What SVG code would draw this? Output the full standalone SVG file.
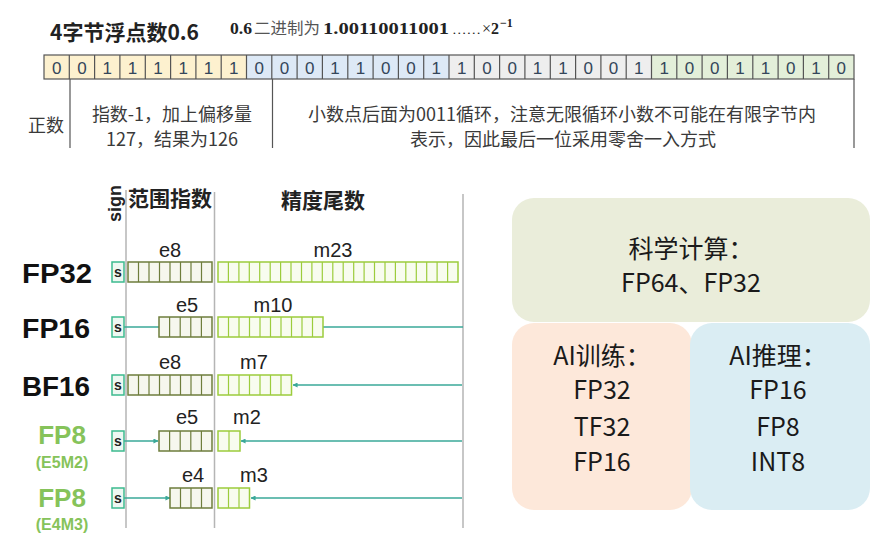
<svg xmlns="http://www.w3.org/2000/svg" width="889" height="548" viewBox="0 0 889 548">
<defs>
<style>
.cjk{font-family:"Noto Sans CJK SC","Noto Sans",sans-serif}
.bit{font-family:"Liberation Sans","Noto Sans",sans-serif;font-size:17px;fill:#34465a;text-anchor:middle}
.y{fill:#fdf1cf}.b{fill:#dde9f6}.g{fill:#eeeeee}.gr{fill:#e3efd9}
.cellline{stroke:#555;stroke-width:1.2;fill:none}
.note{font-family:"Noto Sans CJK SC","Noto Sans",sans-serif;font-size:18px;fill:#3a3a3a;text-anchor:middle}
.lbl{font-family:"Liberation Sans","Noto Sans",sans-serif;font-size:20px;fill:#222;text-anchor:middle}
.fmt{font-family:"Liberation Sans","Noto Sans",sans-serif;font-weight:bold;fill:#111}
.fp8{font-family:"Liberation Sans","Noto Sans",sans-serif;font-weight:bold;fill:#86c35a}
.sbox{fill:#eef8f2;stroke:#3dba8f;stroke-width:1.5}
.stxt{font-family:"Liberation Sans",sans-serif;font-weight:bold;font-size:14px;fill:#222;text-anchor:middle}
.ebox{fill:#f6f7ee;stroke:#6e7d3c;stroke-width:1.5}
.mbox{fill:#f8fcef;stroke:#9ccc3c;stroke-width:1.5}
.ediv{stroke:#6e7d3c;stroke-width:1.2;fill:none}
.mdiv{stroke:#9ccc3c;stroke-width:1.2;fill:none}
.conn{stroke:#3aa898;stroke-width:1.5;fill:none}
.guide{stroke:#b5b5b5;stroke-width:1.5;fill:none}
.blk{font-family:"Noto Sans CJK SC","Noto Sans",sans-serif;font-size:25px;fill:#1a1a1a;text-anchor:middle}
.ser{font-family:"Liberation Serif","DejaVu Serif",serif;font-weight:bold}
</style>
<marker id="ah" viewBox="0 0 6 6" refX="5.5" refY="3" markerWidth="5" markerHeight="5" orient="auto-start-reverse" markerUnits="userSpaceOnUse">
<path d="M0,0 L6,3 L0,6 z" fill="#3aa898"/>
</marker>
</defs>
<rect width="889" height="548" fill="#ffffff"/>

<g id="title">
<text x="50" y="40" class="cjk" font-size="21" font-weight="bold" fill="#222">4字节浮点数0.6</text>
<text y="34" font-size="16" fill="#222">
<tspan x="230" class="ser" textLength="22" lengthAdjust="spacingAndGlyphs">0.6</tspan><tspan x="254" class="cjk" font-size="16" fill="#555" textLength="66" lengthAdjust="spacingAndGlyphs">二进制为</tspan><tspan x="323" class="ser" textLength="126" lengthAdjust="spacingAndGlyphs">1.00110011001</tspan><tspan x="452" font-family="Liberation Serif, serif" font-size="12" textLength="29" lengthAdjust="spacingAndGlyphs">……</tspan><tspan x="482" font-family="Liberation Serif, serif">×</tspan><tspan x="491" class="ser">2</tspan><tspan x="500" y="27" class="ser" font-size="12">−1</tspan>
</text>
</g>

<g id="bitrow">
<rect class="y" x="44" y="55" width="202.5" height="24"/>
<rect class="b" x="246.5" y="55" width="202.5" height="24"/>
<rect class="g" x="449" y="55" width="202.5" height="24"/>
<rect class="gr" x="651.5" y="55" width="202.5" height="24"/>
<rect class="cellline" x="44" y="55" width="810" height="24" stroke-width="1.5"/>
<path class="cellline" d="M69.3,55V79M94.6,55V79M119.9,55V79M145.3,55V79M170.6,55V79M195.9,55V79M221.2,55V79M246.5,55V79M271.8,55V79M297.1,55V79M322.4,55V79M347.8,55V79M373.1,55V79M398.4,55V79M423.7,55V79M449,55V79M474.3,55V79M499.6,55V79M524.9,55V79M550.3,55V79M575.6,55V79M600.9,55V79M626.2,55V79M651.5,55V79M676.8,55V79M702.1,55V79M727.4,55V79M752.8,55V79M778.1,55V79M803.4,55V79M828.7,55V79"/>
<text class="bit" x="56.7" y="74">0</text>
<text class="bit" x="82.0" y="74">0</text>
<text class="bit" x="107.3" y="74">1</text>
<text class="bit" x="132.6" y="74">1</text>
<text class="bit" x="157.9" y="74">1</text>
<text class="bit" x="183.2" y="74">1</text>
<text class="bit" x="208.5" y="74">1</text>
<text class="bit" x="233.8" y="74">1</text>
<text class="bit" x="259.2" y="74">0</text>
<text class="bit" x="284.5" y="74">0</text>
<text class="bit" x="309.8" y="74">0</text>
<text class="bit" x="335.1" y="74">1</text>
<text class="bit" x="360.4" y="74">1</text>
<text class="bit" x="385.7" y="74">0</text>
<text class="bit" x="411.0" y="74">0</text>
<text class="bit" x="436.3" y="74">1</text>
<text class="bit" x="461.7" y="74">1</text>
<text class="bit" x="487.0" y="74">0</text>
<text class="bit" x="512.3" y="74">0</text>
<text class="bit" x="537.6" y="74">1</text>
<text class="bit" x="562.9" y="74">1</text>
<text class="bit" x="588.2" y="74">0</text>
<text class="bit" x="613.5" y="74">0</text>
<text class="bit" x="638.8" y="74">1</text>
<text class="bit" x="664.2" y="74">1</text>
<text class="bit" x="689.5" y="74">0</text>
<text class="bit" x="714.8" y="74">0</text>
<text class="bit" x="740.1" y="74">1</text>
<text class="bit" x="765.4" y="74">1</text>
<text class="bit" x="790.7" y="74">0</text>
<text class="bit" x="816.0" y="74">1</text>
<text class="bit" x="841.3" y="74">0</text>
<path class="cellline" stroke-width="1.5" d="M70,79V148M272.5,79V148M854,79V148"/>
</g>

<g id="bitnotes">
<text class="note" x="46" y="132" font-size="17">正数</text>
<text class="note" x="172" y="121">指数-1，加上偏移量</text>
<text class="note" x="172" y="146">127，结果为126</text>
<text class="note" x="562" y="121">小数点后面为0011循环，注意无限循环小数不可能在有限字节内</text>
<text class="note" x="563" y="146">表示，因此最后一位采用零舍一入方式</text>
</g>

<g id="formats-header">
<path class="guide" d="M126,190V528M214.5,192V528M463,194V528"/>
<text transform="translate(121,222) rotate(-90)" font-family="Liberation Sans, sans-serif" font-weight="bold" font-size="18" fill="#222">sign</text>
<text x="128" y="206" class="cjk" font-size="21" font-weight="bold" fill="#222">范围指数</text>
<text x="323" y="208" class="cjk" font-size="21" font-weight="bold" fill="#222" text-anchor="middle">精度尾数</text>
</g>

<g id="connectors">
<path class="conn" d="M124,327H159"/>
<path class="conn" d="M323,327H463"/>
<path class="conn" d="M462,385H293" marker-end="url(#ah)"/>
<path class="conn" d="M124,441H158" marker-end="url(#ah)"/>
<path class="conn" d="M462,441H241" marker-end="url(#ah)"/>
<path class="conn" d="M124,498H170" marker-end="url(#ah)"/>
<path class="conn" d="M462,498H251" marker-end="url(#ah)"/>
</g>

<g id="fp32">
<text class="fmt" x="22" y="283" font-size="27" textLength="70" lengthAdjust="spacingAndGlyphs">FP32</text>
<rect class="sbox" x="112" y="262" width="12" height="20"/><text class="stxt" x="118" y="277">s</text>
<rect class="ebox" x="128" y="262" width="84" height="20"/>
<path class="ediv" d="M138.5,262v20M149,262v20M159.5,262v20M170,262v20M180.5,262v20M191,262v20M201.5,262v20"/>
<rect class="mbox" x="218" y="262" width="240" height="20"/>
<path class="mdiv" d="M228.4,262v20M238.9,262v20M249.3,262v20M259.7,262v20M270.2,262v20M280.6,262v20M291,262v20M301.5,262v20M311.9,262v20M322.3,262v20M332.8,262v20M343.2,262v20M353.7,262v20M364.1,262v20M374.5,262v20M385,262v20M395.4,262v20M405.8,262v20M416.3,262v20M426.7,262v20M437.1,262v20M447.6,262v20"/>
<text class="lbl" x="170" y="257">e8</text>
<text class="lbl" x="333" y="257">m23</text>
</g>

<g id="fp16">
<text class="fmt" x="22" y="338" font-size="27" textLength="68" lengthAdjust="spacingAndGlyphs">FP16</text>
<rect class="sbox" x="112" y="317" width="12" height="20"/><text class="stxt" x="118" y="332">s</text>
<rect class="ebox" x="159" y="317" width="53" height="20"/>
<path class="ediv" d="M169.6,317v20M180.2,317v20M190.8,317v20M201.4,317v20"/>
<rect class="mbox" x="218" y="317" width="105" height="20"/>
<path class="mdiv" d="M228.5,317v20M239,317v20M249.5,317v20M260,317v20M270.5,317v20M281,317v20M291.5,317v20M302,317v20M312.5,317v20"/>
<text class="lbl" x="187" y="312">e5</text>
<text class="lbl" x="273" y="312">m10</text>
</g>

<g id="bf16">
<text class="fmt" x="22" y="396" font-size="27" textLength="68" lengthAdjust="spacingAndGlyphs">BF16</text>
<rect class="sbox" x="112" y="375" width="12" height="20"/><text class="stxt" x="118" y="390">s</text>
<rect class="ebox" x="128" y="375" width="84" height="20"/>
<path class="ediv" d="M138.5,375v20M149,375v20M159.5,375v20M170,375v20M180.5,375v20M191,375v20M201.5,375v20"/>
<rect class="mbox" x="218" y="375" width="73.5" height="20"/>
<path class="mdiv" d="M228.5,375v20M239,375v20M249.5,375v20M260,375v20M270.5,375v20M281,375v20"/>
<text class="lbl" x="170" y="369">e8</text>
<text class="lbl" x="254" y="369">m7</text>
</g>

<g id="fp8-e5m2">
<text class="fp8" x="62" y="444" font-size="26" text-anchor="middle">FP8</text>
<text class="fp8" x="62" y="468" font-size="16" text-anchor="middle">(E5M2)</text>
<rect class="sbox" x="112" y="431" width="12" height="20"/><text class="stxt" x="118" y="446">s</text>
<rect class="ebox" x="159" y="431" width="53" height="20"/>
<path class="ediv" d="M169.6,431v20M180.2,431v20M190.8,431v20M201.4,431v20"/>
<rect class="mbox" x="218" y="431" width="22" height="20"/>
<path class="mdiv" d="M229,431v20"/>
<text class="lbl" x="187" y="424">e5</text>
<text class="lbl" x="247" y="424">m2</text>
</g>

<g id="fp8-e4m3">
<text class="fp8" x="62" y="507" font-size="26" text-anchor="middle">FP8</text>
<text class="fp8" x="62" y="530" font-size="16" text-anchor="middle">(E4M3)</text>
<rect class="sbox" x="112" y="488" width="12" height="20"/><text class="stxt" x="118" y="503">s</text>
<rect class="ebox" x="170" y="488" width="42" height="20"/>
<path class="ediv" d="M180.5,488v20M191,488v20M201.5,488v20"/>
<rect class="mbox" x="218" y="488" width="31.5" height="20"/>
<path class="mdiv" d="M228.5,488v20M239,488v20"/>
<text class="lbl" x="193" y="482">e4</text>
<text class="lbl" x="254" y="482">m3</text>
</g>

<g id="sci">
<rect x="512" y="198" width="358" height="124" rx="22" fill="#eaedda"/>
<text class="blk" x="691" y="258">科学计算：</text>
<text class="blk" x="691" y="292">FP64、FP32</text>
</g>
<g id="train">
<rect x="512" y="323" width="180" height="187" rx="22" fill="#fde8da"/>
<text class="blk" x="602" y="365">AI训练：</text>
<text class="blk" x="602" y="399">FP32</text>
<text class="blk" x="602" y="436">TF32</text>
<text class="blk" x="602" y="471">FP16</text>
</g>
<g id="infer">
<rect x="690" y="323" width="180" height="187" rx="22" fill="#daedf3"/>
<text class="blk" x="778" y="365">AI推理：</text>
<text class="blk" x="778" y="399">FP16</text>
<text class="blk" x="778" y="436">FP8</text>
<text class="blk" x="778" y="471">INT8</text>
</g>
</svg>
